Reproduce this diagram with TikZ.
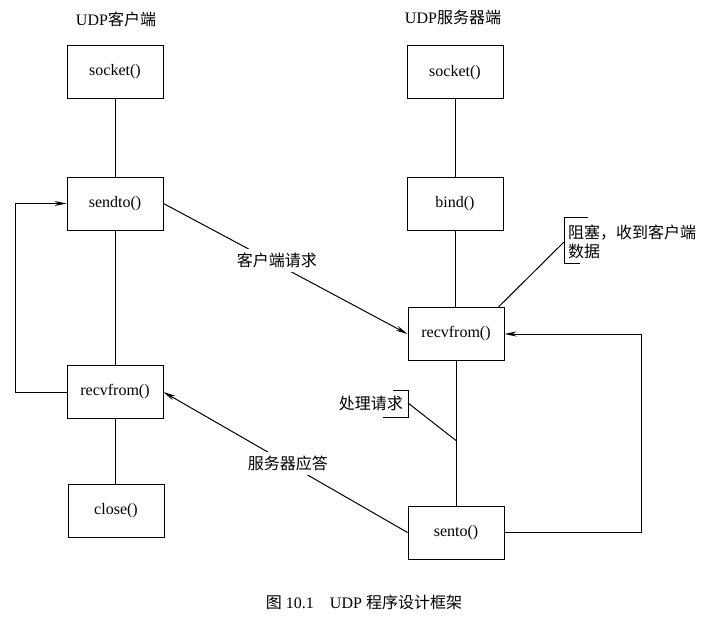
\documentclass[tikz,border=0pt]{standalone}
\usepackage{fontspec}
\setmainfont{Liberation Serif}
\newfontfamily\cjk{Noto Sans CJK SC}
\usetikzlibrary{arrows.meta,calc}
\begin{document}
\begin{tikzpicture}[x=1pt,y=-1pt,
  box/.style={draw,line width=1pt,minimum width=96pt,minimum height=53pt,inner sep=0pt,font=\fontsize{16}{19}\selectfont},
  conn/.style={line width=1pt},
  arr/.style={line width=1pt,-{Stealth[length=12pt,width=5pt]}},
  lab/.style={font=\fontsize{16}{19}\selectfont\cjk,inner sep=2pt},
  ttl/.style={font=\fontsize{16}{19}\selectfont},
  ]
\useasboundingbox (0,0) rectangle (705,618);
% titles
\node[ttl] (tl) at (116,19) {UDP{\cjk 客户端}};
\node[ttl] (tr) at (453,17) {UDP{\cjk 服务器端}};
% client column
\node[box] (lsock) at (115,72) {socket()};
\node[box] (sendto) at (115,203.5) {sendto()};
\node[box] (lrecv) at (115,392) {recvfrom()};
\node[box] (close) at (116,510.5) {close()};
% server column
\node[box] (rsock) at (455,72.5) {socket()};
\node[box] (bind) at (455,204) {bind()};
\node[box] (rrecv) at (456,334) {recvfrom()};
\node[box] (sento) at (456,532.5) {sento()};
% vertical links
\draw[conn] (lsock.south) -- (sendto.north);
\draw[conn] (sendto.south) -- (lrecv.north);
\draw[conn] (lrecv.south) -- (close.north -| lrecv.south);
\draw[conn] (rsock.south) -- (bind.north);
\draw[conn] (bind.south) -- (bind.south |- rrecv.north);
\draw[conn] (rrecv.south) -- (sento.north);
% loops
\draw[arr] (lrecv.west) -- (15,392) |- (sendto.west);
\draw[arr] (sento.east) -- (641,532.5) |- (rrecv.east);
% messages
\draw[arr] (sendto.east) -- node[lab,pos=0.465,fill=white,yshift=4pt,inner sep=4pt] (req) {客户端请求} (rrecv.west);
\draw[arr] (sento.west) -- node[lab,pos=0.49,fill=white,inner sep=4pt] (resp) {服务器应答} (lrecv.east);
% annotation: blocking
\node[lab,anchor=west,align=left] (ann) at (566,241.5) {阻塞，收到客户端\\数据};
\draw[conn] (588,217) -- (564,217) -- (564,263) -- (580,263);
\coordinate (annpt) at (564,242);
\draw[conn] (annpt) -- ($(rrecv.north east)+(-6,0)$);
% annotation: processing
\node[lab,anchor=east] (proc) at (405,403) {处理请求};
\draw[conn] (393,390) -- (408,390) -- (408,417) -- (383,417);
\coordinate (procpt) at (408,403);
\draw[conn] (procpt) -- ($(rrecv.south)!0.55!(sento.north)$);
% caption
\node[ttl] (cap) at (364,602) {{\cjk 图} 10.1\quad UDP {\cjk 程序设计框架}};
\end{tikzpicture}
\end{document}
